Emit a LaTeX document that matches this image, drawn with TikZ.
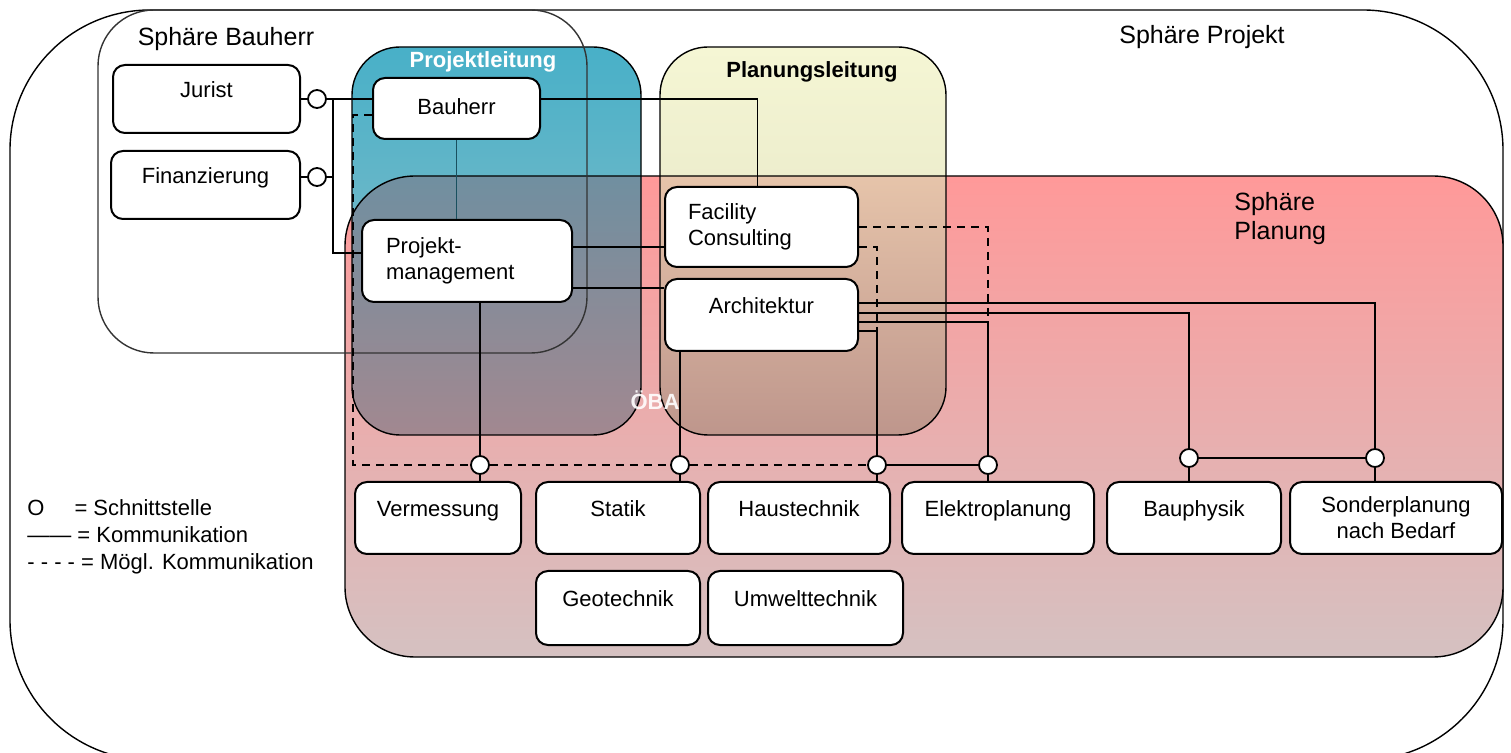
\documentclass[tikz,border=0pt]{standalone}
\usepackage{xcolor}
\usepackage{fontspec}
\setmainfont{Liberation Sans}
\usepackage{tikz}
\definecolor{tealtop}{RGB}{72,176,200}
\definecolor{tealbot}{RGB}{150,192,200}
\definecolor{mauvetop}{RGB}{112,143,160}
\definecolor{mauvebot}{RGB}{162,136,144}
\definecolor{creamtop}{RGB}{245,246,212}
\definecolor{creambot}{RGB}{222,222,192}
\definecolor{peachtop}{RGB}{230,196,170}
\definecolor{peachbot}{RGB}{190,150,140}
\definecolor{pinktop}{RGB}{255,153,153}
\definecolor{pinkbot}{RGB}{213,193,193}
\definecolor{darkteal}{RGB}{25,80,95}

\tikzset{
  unitbox/.style={draw, fill=white, rounded corners=6pt, line width=1pt, inner sep=0pt},
  oneline/.style={unitbox, text height=8pt, text depth=9pt},
  schnitt/.style={circle, draw, fill=white, line width=0.9pt, minimum size=9pt, inner sep=0pt},
  sphere/.style={line width=0.7pt},
  spherelabel/.style={font=\fontsize{12.5}{14.5}\selectfont},
  link/.style={line width=0.9pt},
  maybe/.style={link, dash pattern=on 4pt off 3pt},
}

\begin{document}
\begin{tikzpicture}[x=0.5pt, y=-0.5pt, font=\fontsize{11}{13}\selectfont]
\useasboundingbox (0,0) rectangle (1511,753);

% spheres
\draw[sphere, rounded corners=70pt] (10,10) rectangle (1503,760);
\shade[top color=pinktop, bottom color=pinkbot, rounded corners=35pt] (345,176) rectangle (1503,657);
\shade[top color=tealtop, bottom color=tealbot, rounded corners=24pt] (352,47) rectangle (641,435);
\shade[top color=creamtop, bottom color=creambot, rounded corners=24pt] (660,47) rectangle (946,435);
\begin{scope}
  \clip[rounded corners=35pt] (345,176) rectangle (1503,657);
  \clip[rounded corners=24pt] (352,47) rectangle (641,435);
  \shade[top color=mauvetop, bottom color=mauvebot] (352,176) rectangle (641,435);
\end{scope}
\begin{scope}
  \clip[rounded corners=35pt] (345,176) rectangle (1503,657);
  \clip[rounded corners=24pt] (660,47) rectangle (946,435);
  \shade[top color=peachtop, bottom color=peachbot] (660,176) rectangle (946,435);
\end{scope}
\draw[sphere, rounded corners=35pt] (345,176) rectangle (1503,657);
\draw[sphere, rounded corners=24pt] (352,47) rectangle (641,435);
\draw[sphere, rounded corners=24pt] (660,47) rectangle (946,435);
\draw[sphere, black!80, rounded corners=28pt] (98,10) rectangle (587,353);

\node[spherelabel] (projekt) at (1202,37) {Sphäre Projekt};
\node[spherelabel] (bauherrsph) at (226,39) {Sphäre Bauherr};
\node[white, font=\fontsize{11}{13}\selectfont\bfseries] (pleitung) at (483,62) {Projektleitung};
\node[font=\fontsize{11}{13}\selectfont\bfseries] (planleitung) at (812,72) {Planungsleitung};
\node[spherelabel, align=left, anchor=north west, inner sep=0pt] (planung) at (1234,192) {Sphäre\\Planung};
\node[white, opacity=0.9, font=\fontsize{11}{13}\selectfont\bfseries] (oba) at (655,400) {ÖBA};

% boxes
\node[oneline, minimum width=93.5pt, minimum height=34pt] (jurist) at (206.5,99) {Jurist};
\node[oneline, minimum width=94.5pt, minimum height=34pt] (finanz) at (205.5,185) {Finanzierung};
\node[oneline, minimum width=83.5pt, minimum height=30.5pt, text depth=1.5pt] (bauherr) at (456.5,108.5) {Bauherr};
\node[unitbox, minimum height=41pt, text width=81pt, inner xsep=12pt, align=left] (pm) at (467,261) {Projekt-\\management};
\node[unitbox, minimum height=40pt, text width=73.5pt, inner xsep=11.5pt, align=left] (fc) at (761.5,227) {Facility\\Consulting};
\node[oneline, minimum width=96.5pt, minimum height=36pt] (arch) at (761.5,315) {Architektur};
\node[oneline, minimum width=83pt, minimum height=36pt] (verm) at (438,518) {Vermessung};
\node[oneline, minimum width=82pt, minimum height=36pt] (statik) at (618,518) {Statik};
\node[oneline, minimum width=91pt, minimum height=36pt] (haus) at (799,518) {Haustechnik};
\node[oneline, minimum width=96pt, minimum height=36pt] (elektro) at (998,518) {Elektroplanung};
\node[oneline, minimum width=87pt, minimum height=36pt] (bauph) at (1194,518) {Bauphysik};
\node[unitbox, minimum width=106pt, minimum height=36pt, align=center] (sonder) at (1396,518) {Sonderplanung\\nach Bedarf};
\node[oneline, minimum width=82pt, minimum height=37pt] (geo) at (618,608) {Geotechnik};
\node[oneline, minimum width=97.5pt, minimum height=37pt] (umwelt) at (805.5,608) {Umwelttechnik};

% schnittstellen
\node[schnitt] (sj) at (317,99) {};
\node[schnitt] (sf) at (317,177) {};
\node[schnitt] (cv) at (480,465) {};
\node[schnitt] (cst) at (680,465) {};
\node[schnitt] (cht) at (877,465) {};
\node[schnitt] (cel) at (988,465) {};
\node[schnitt] (cbp) at (1189,458) {};
\node[schnitt] (cso) at (1375,458) {};

% kommunikation
\coordinate (bus) at (333,99);
\draw[link] (jurist.east |- sj) -- (sj);
\draw[link] (finanz.east |- sf) -- (sf);
\draw[link] (sj) -- (bauherr.west |- sj);
\draw[link] (sf) -- (bus |- sf);
\draw[link] (bus) |- ([yshift=4pt]pm.west);
\draw[link] (bauherr.east |- sj) -| ([xshift=-2pt]fc.north);
\draw[link, darkteal] (bauherr.south) -- (bauherr.south |- pm.north);
\draw[link] (cv |- pm.south) -- (cv);
\coordinate (f1) at ([yshift=-10pt]fc.west);
\draw[link] (f1) -- (f1 -| pm.east);
\coordinate (r0) at ([yshift=13.5pt]arch.west);
\draw[link] (r0) -- (r0 -| pm.east);
\coordinate (a1) at ([yshift=6pt]arch.east);
\coordinate (a2) at ([yshift=1pt]arch.east);
\coordinate (a3) at ([yshift=-3.5pt]arch.east);
\coordinate (a4) at ([yshift=-8pt]arch.east);
\draw[link] (a1) -| (cso);
\draw[link] (a2) -| (cbp);
\draw[link] (a3) -| (cel);
\draw[link] (a4) -| (cht);
\draw[link] (cst |- arch.south) -- (cst);
\draw[link] (cht) -- (cel);
\draw[link] (cbp) -- (cso);
\foreach \c/\b in {cv/verm, cst/statik, cht/haus, cel/elektro, cbp/bauph, cso/sonder}
  \draw[link] (\c) -- (\c |- \b.north);

% moegliche kommunikation
\coordinate (dl) at (353,465);
\draw[maybe] ([yshift=-3.25pt]bauherr.west) -| (dl) -- (cv);
\draw[maybe] (cv) -- (cst);
\draw[maybe] (cst) -- (cht);
\draw[maybe] (fc.east) -| (cel |- a3);
\coordinate (f2) at ([yshift=-10pt]fc.east);
\draw[maybe] (f2) -| (cht |- a4);

% legende
\node[anchor=west, align=left, inner sep=0pt, font=\fontsize{11}{13.5}\selectfont] (legende) at (27,537)
  {O\hspace{15pt}= Schnittstelle\\—— = Kommunikation\\- - - - = Mögl. Kommunikation};
\end{tikzpicture}
\end{document}
